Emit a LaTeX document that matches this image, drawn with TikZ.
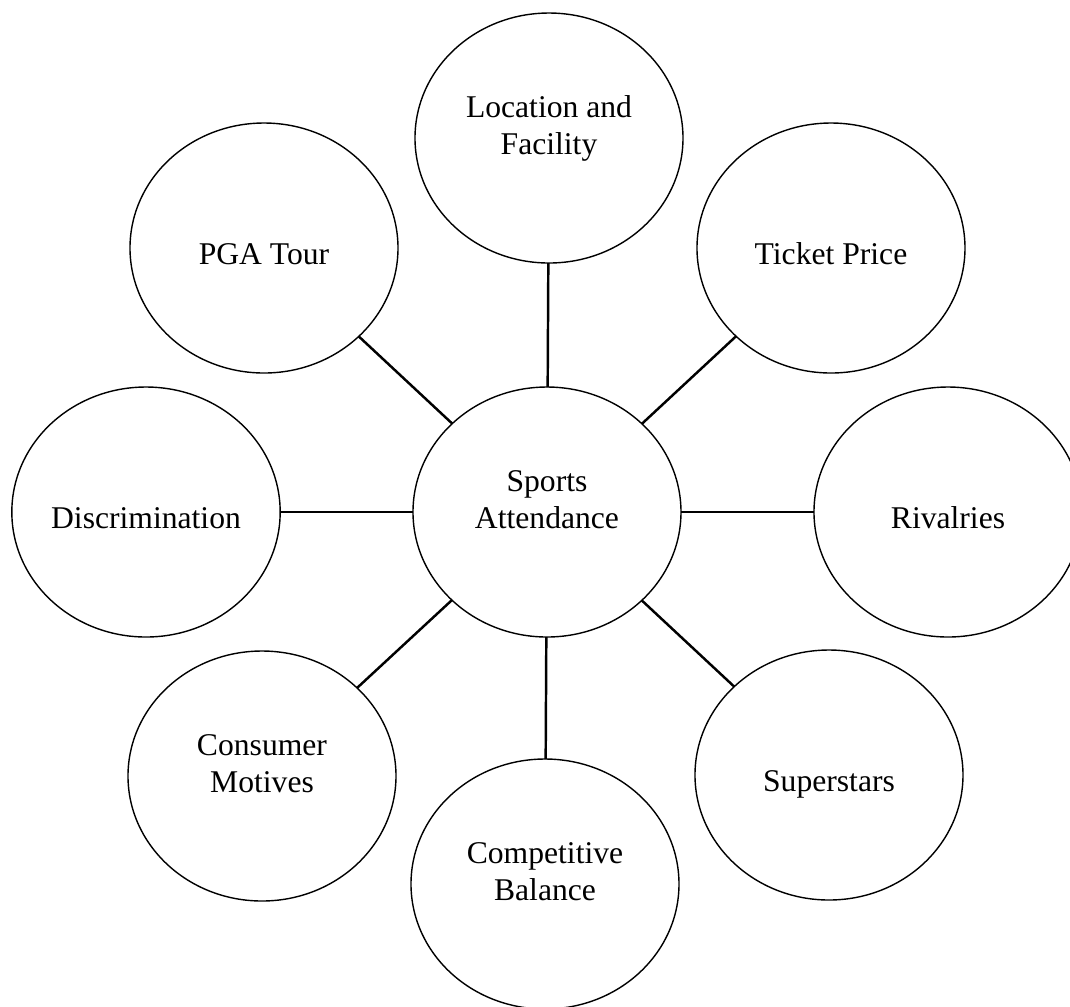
\documentclass[tikz,border=0pt]{standalone}
\usepackage{fontspec}
\setmainfont{Liberation Serif}
\usetikzlibrary{shapes.geometric}

\tikzset{
  bubble/.style = {draw, ellipse, line width=0.4pt, inner sep=0pt, outer sep=0pt,
                   minimum width=2.68cm, minimum height=2.5cm, align=center,
                   font=\fontsize{9}{10.5}\selectfont,
                   text height=2.1ex, text depth=0pt},
  twoline/.style = {text height=4ex, text depth=2ex},
  spoke/.style = {line width=0.7pt}
}

\begin{document}
\begin{tikzpicture}
\useasboundingbox (0,0) rectangle (10.7,-10.06);
\path (5.47,-5.12) node[bubble, twoline] (S) {Sports\\Attendance};
\path (5.49,-1.38) node[bubble, twoline] (L) {Location and\\Facility};
\path (8.31,-2.48) node[bubble] (T) {Ticket Price};
\path (9.48,-5.12) node[bubble] (R) {Rivalries};
\path (8.29,-7.75) node[bubble] (SS) {Superstars};
\path (5.45,-8.84) node[bubble, twoline] (CB) {Competitive\\Balance};
\path (2.62,-7.76) node[bubble, twoline] (CM) {Consumer\\Motives};
\path (1.46,-5.12) node[bubble] (D) {Discrimination};
\path (2.64,-2.48) node[bubble] (P) {PGA Tour};
\foreach \x in {L, T, R, SS, CB, CM, D, P}
  \draw[spoke] (S) -- (\x);
\end{tikzpicture}
\end{document}
